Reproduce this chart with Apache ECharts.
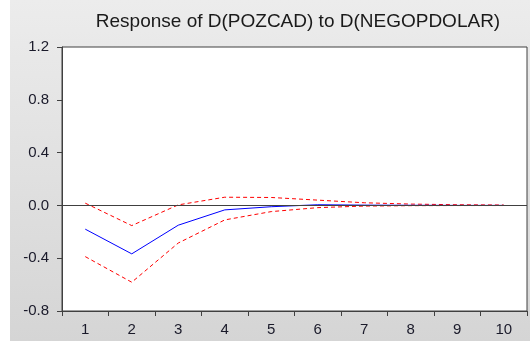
<!DOCTYPE html>
<html>
<head>
<meta charset="utf-8">
<script src="https://cdn.jsdelivr.net/npm/echarts@6/dist/echarts.min.js"></script>
<style>
html, body { margin: 0; padding: 0; background: #fff; }
#main { width: 530px; height: 341px; }
</style>
</head>
<body>
<div id="main"></div>
<script>
var periods = ['1', '2', '3', '4', '5', '6', '7', '8', '9', '10'];
var response = [-0.18, -0.367, -0.15, -0.034, -0.01, 0.005, 0.002, 0.001, 0.0, 0.0];
var upperBand = [0.017, -0.153, 0.004, 0.062, 0.06, 0.04, 0.02, 0.01, 0.005, 0.003];
var lowerBand = [-0.388, -0.582, -0.285, -0.11, -0.047, -0.017, -0.005, -0.002, -0.001, -0.001];

var myChart = echarts.init(document.getElementById('main'));
myChart.setOption({
	animation: false,
	graphic: [{
		type: 'rect',
		z: -10,
		shape: { x: 10, y: 0, width: 520, height: 341 },
		style: {
			fill: new echarts.graphic.LinearGradient(0, 0, 0, 1, [
				{ offset: 0, color: '#ececec' },
				{ offset: 1, color: '#d5d5d5' }
			])
		}
	}],
	title: {
		text: 'Response of D(POZCAD) to D(NEGOPDOLAR)',
		left: 293,
		textAlign: 'center',
		top: 7,
		textStyle: {
			fontFamily: 'Liberation Sans',
			fontSize: 19,
			fontWeight: 'normal',
			color: '#1a1a1a'
		}
	},
	grid: {
		left: 62,
		right: 3,
		top: 47,
		bottom: 30,
		show: true,
		backgroundColor: '#ffffff',
		borderColor: '#404040',
		borderWidth: 1
	},
	xAxis: {
		type: 'category',
		data: periods,
		boundaryGap: true,
		axisLine: { onZero: false, lineStyle: { color: '#404040', width: 1 } },
		axisTick: { show: true, length: 5, lineStyle: { color: '#404040' } },
		axisLabel: {
			margin: 11,
			fontFamily: 'Liberation Sans',
			fontSize: 15,
			color: '#1a1a2a'
		},
		splitLine: { show: false }
	},
	yAxis: {
		type: 'value',
		min: -0.8,
		max: 1.2,
		interval: 0.4,
		axisLine: { show: true, lineStyle: { color: '#404040', width: 1 } },
		axisTick: { show: true, length: 5, lineStyle: { color: '#404040' } },
		axisLabel: {
			margin: 13,
			fontFamily: 'Liberation Sans',
			fontSize: 15,
			color: '#1a1a2a',
			formatter: function (v) { return v.toFixed(1); }
		},
		splitLine: { show: false }
	},
	series: [{
		name: 'response',
		type: 'line',
		data: response,
		symbol: 'none',
		lineStyle: { color: '#0000ff', width: 1 },
		markLine: {
			silent: true,
			symbol: ['none', 'none'],
			label: { show: false },
			lineStyle: { color: '#404040', type: 'solid', width: 1 },
			data: [{ yAxis: 0 }]
		},
		z: 3
	}, {
		name: 'upper',
		type: 'line',
		data: upperBand,
		symbol: 'none',
		lineStyle: { color: '#ff0000', width: 1, type: [4, 3] },
		z: 2
	}, {
		name: 'lower',
		type: 'line',
		data: lowerBand,
		symbol: 'none',
		lineStyle: { color: '#ff0000', width: 1, type: [4, 3] },
		z: 2
	}]
});
</script>
</body>
</html>
